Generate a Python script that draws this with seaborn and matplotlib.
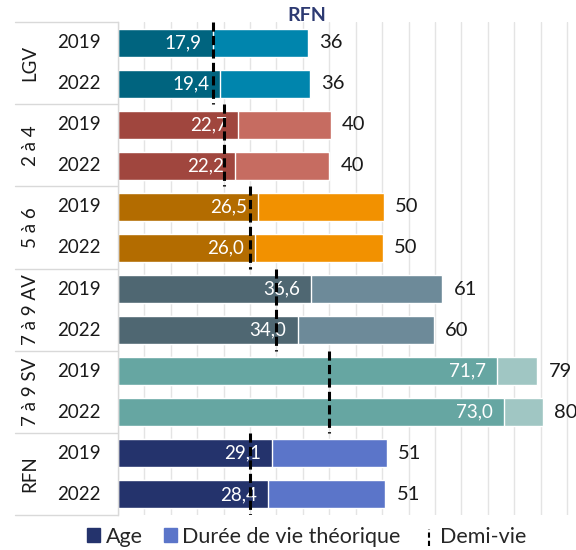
import pandas as pd
import matplotlib
matplotlib.use('Agg')
import matplotlib.pyplot as plt
import matplotlib.transforms as mtransforms
from matplotlib.patches import Patch
from matplotlib.lines import Line2D
from matplotlib.legend_handler import HandlerBase
import seaborn as sns

# --- data ---
groups = ['LGV', '2 à 4', '5 à 6', '7 à 9 AV', '7 à 9 SV', 'RFN']
years = ['2019', '2022']
age = [17.9, 19.4, 22.7, 22.2, 26.5, 26.0, 36.6, 34.0, 71.7, 73.0, 29.1, 28.4]
duree = [36.0, 36.4, 40.3, 40.0, 50.4, 50.2, 61.4, 59.8, 79.4, 80.4, 50.9, 50.6]
demi_vie = [18, 20, 25, 30, 40, 25]

dark_colors = ['#00647F', '#A0463E', '#B36C00', '#4F6772', '#66A6A2', '#24336C']
light_colors = ['#0085AD', '#C66C61', '#F29100', '#6D8A99', '#A0C6C3', '#5B75C9']

rows = [f'{g} {y}' for g in groups for y in years]
df = pd.DataFrame({
    'row': rows,
    'group': [g for g in groups for _ in years],
    'year': [y for _ in groups for y in years],
    'age': age,
    'duree': duree,
})

sns.set_theme(style='white')
plt.rcParams['font.family'] = ['Lato', 'DejaVu Sans']

fig = plt.figure(figsize=(5.76, 5.5), dpi=100)
ax = fig.add_axes([118 / 576, 35 / 550, 458 / 576, 493 / 550])

# --- bars: total lifetime behind, age in front ---
sns.barplot(data=df, y='row', x='duree', hue='group', order=rows, hue_order=groups,
            palette=light_colors, dodge=False, width=0.68, saturation=1,
            errorbar=None, legend=False, ax=ax)
sns.barplot(data=df, y='row', x='age', hue='group', order=rows, hue_order=groups,
            palette=dark_colors, dodge=False, width=0.68, saturation=1,
            errorbar=None, legend=False, ax=ax)

ax.set_xlim(0, 86.7)
ax.set_ylim(11.5, -0.5)
ax.set_xticks(range(0, 90, 5))
ax.set_xticklabels([])
ax.set_yticks([])
ax.set_xlabel('')
ax.set_ylabel('')
ax.xaxis.grid(True, color='#E4E4E4', lw=1)
ax.set_axisbelow(True)
for s in ['top', 'right', 'bottom']:
    ax.spines[s].set_visible(False)
ax.spines['left'].set_color('#D9D9D9')
ax.spines['left'].set_linewidth(1)

# --- value labels ---
for i, (a, d) in enumerate(zip(age, duree)):
    ax.annotate(f'{a:.1f}'.replace('.', ','), (a, i), xytext=(-8, 0),
                textcoords='offset points', ha='right', va='center',
                color='white', fontsize=13.5)
    ax.annotate(f'{d:.0f}', (d, i), xytext=(8, 0), textcoords='offset points',
                ha='left', va='center', color='#1A1A1A', fontsize=14.5)

# --- half-life dashed lines, one per group ---
for g, dv in enumerate(demi_vie):
    ax.plot([dv, dv], [2 * g - 0.5, 2 * g + 1.5], color='black', lw=2.2,
            dashes=(3, 1.4), zorder=5)

# --- left table: years and group names ---
trans = mtransforms.blended_transform_factory(ax.transAxes, ax.transData)
for i, y in enumerate(df['year']):
    ax.text(-0.085, i, y, transform=trans, ha='center', va='center',
            fontsize=13.5, color='#1A1A1A')
for g, name in enumerate(groups):
    ax.text(-0.192, 2 * g + 0.5, name, transform=trans, ha='center', va='center',
            rotation=90, fontsize=13.5, color='#1A1A1A')
for b in range(7):
    ax.plot([-0.225, 0], [2 * b - 0.5] * 2, transform=trans, color='#D9D9D9',
            lw=1, clip_on=False)

fig.text(0.533, 0.971, 'RFN', ha='center', va='center', fontsize=14,
         fontweight='bold', color='#2D3A72')


# --- legend ---
class VDashHandler(HandlerBase):
    def create_artists(self, legend, orig_handle, x0, y0, width, height, fontsize, trans):
        xm = x0 + width / 2
        line = Line2D([xm, xm], [y0 - 0.2 * height, y0 + 1.1 * height], color='black',
                      lw=1.5, dashes=(2.5, 1.5), transform=trans)
        return [line]


handles = [Patch(color='#24336C'), Patch(color='#5B75C9'), Line2D([], [])]
labels = ['Age', 'Durée de vie théorique', 'Demi-vie']
fig.legend(handles, labels, loc='center', bbox_to_anchor=(0.533, 0.024), ncol=3,
           frameon=False, fontsize=15.5, handlelength=0.6, handleheight=0.6,
           handletextpad=0.25, columnspacing=1.0, borderpad=0.2,
           handler_map={Line2D: VDashHandler()})

fig.savefig('out.png', dpi=100)
